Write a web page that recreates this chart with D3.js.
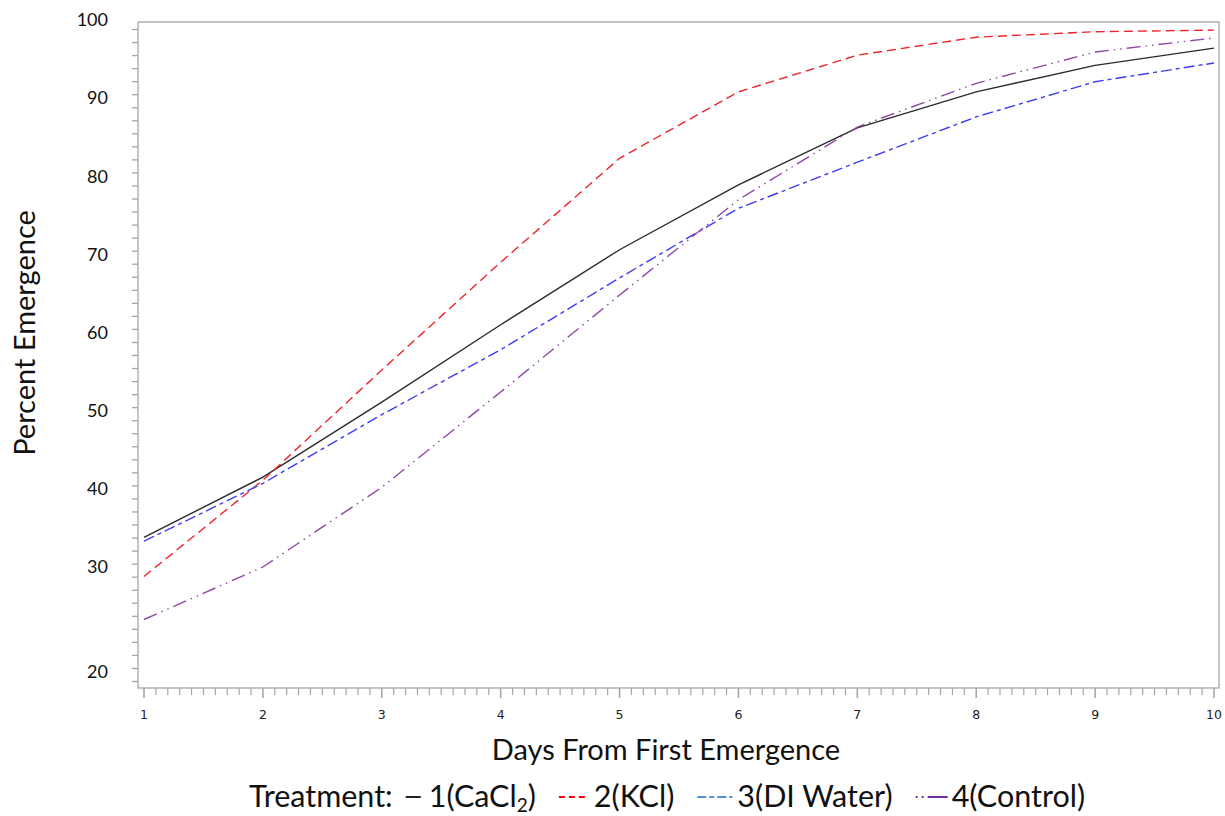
<!DOCTYPE html>
<html>
<head>
<meta charset="utf-8">
<script src="https://cdn.jsdelivr.net/npm/d3@7"></script>
<style>
	body { margin: 0; background: #fff; }
	svg { display: block; }
</style>
</head>
<body>
<div id="chart"></div>
<script>
// data
const days = [1, 2, 3, 4, 5, 6, 7, 8, 9, 10];
const cacl2 = [33.8, 41.5, 51.1, 61.0, 70.6, 78.9, 86.2, 90.8, 94.2, 96.4];
const kcl = [29.1, 41.1, 55.2, 69.0, 82.3, 90.8, 95.5, 97.8, 98.5, 98.7];
const diWater = [33.3, 40.7, 49.5, 57.8, 67.0, 75.9, 81.8, 87.6, 92.1, 94.5];
const control = [25.0, 30.0, 40.2, 52.4, 64.8, 77.0, 86.3, 91.9, 95.9, 97.7];
const yTickLabels = [20, 30, 40, 50, 60, 70, 80, 90, 100];
const xTickLabels = [1, 2, 3, 4, 5, 6, 7, 8, 9, 10];

const series = [
	{ name: '1(CaCl2)', values: cacl2, color: '#2b2b2b', dash: null, legendColor: '#222', legendDash: null },
	{ name: '2(KCl)', values: kcl, color: '#f0242c', dash: '9,5', legendColor: '#ff0000', legendDash: '6,4' },
	{ name: '3(DI Water)', values: diWater, color: '#3d3df2', dash: '11,4,4,4', legendColor: '#4f8ee0', legendDash: '9,3,5,3' },
	{ name: '4(Control)', values: control, color: '#9146a6', dash: '14,5,1.5,5,1.5,5', legendColor: '#7030a0', legendDash: '2,4,2,4,20' }
];

const W = 1225, H = 816;
const frame = { left: 138, top: 22, right: 1219, bottom: 688 };

const svg = d3.select('#chart').append('svg')
	.attr('width', W)
	.attr('height', H)
	.style('font-family', 'Lato, "Open Sans", sans-serif');

// x: day -> pixel
const xScale = d3.scaleLinear().domain([1, 10]).range([144, 1214]);
// y scale used for the printed labels and the curves
const yScale = d3.scaleLinear().domain([20, 30, 100]).range([672, 567, 20]);
// the tick marks sit on their own regular grid
const yTickScale = d3.scaleLinear().domain([0, 100]).range([681, 29]);

// frame
svg.append('rect')
	.attr('x', frame.left)
	.attr('y', frame.top)
	.attr('width', frame.right - frame.left)
	.attr('height', frame.bottom - frame.top)
	.attr('fill', 'none')
	.attr('stroke', '#a6a6a6')
	.attr('stroke-width', 1.3);

// y tick marks
const yAxis = d3.axisLeft(yTickScale)
	.tickValues(d3.range(0, 101, 2))
	.tickSize(6)
	.tickFormat('');
const gy = svg.append('g')
	.attr('transform', 'translate(' + frame.left + ',0)')
	.call(yAxis);
gy.select('.domain').remove();
gy.selectAll('line').attr('stroke', '#a6a6a6').attr('stroke-width', 1.3);

// y tick labels
svg.append('g').selectAll('text')
	.data(yTickLabels)
	.enter()
	.append('text')
	.attr('x', 108)
	.attr('y', (d) => yScale(d))
	.attr('dy', '0.35em')
	.attr('text-anchor', 'end')
	.style('font-size', '18px')
	.style('fill', '#111')
	.text((d) => d);

// x tick marks, minor every 0.1 day
const xMinor = d3.range(0, 91).map((i) => 1 + i / 10);
const gx = svg.append('g').attr('transform', 'translate(0,' + frame.bottom + ')');
gx.selectAll('line')
	.data(xMinor)
	.enter()
	.append('line')
	.attr('x1', (d) => xScale(d))
	.attr('x2', (d) => xScale(d))
	.attr('y1', 0)
	.attr('y2', (d, i) => (i % 10 == 0 ? 10 : 7))
	.attr('stroke', '#a6a6a6')
	.attr('stroke-width', (d, i) => (i % 10 == 0 ? 1.6 : 1.2));

svg.append('g').selectAll('text')
	.data(xTickLabels)
	.enter()
	.append('text')
	.attr('x', (d) => xScale(d))
	.attr('y', 719)
	.attr('text-anchor', 'middle')
	.style('font-family', '"DejaVu Sans", sans-serif')
	.style('font-size', '12.5px')
	.style('fill', '#222')
	.text((d) => d);

// curves
const line = d3.line()
	.x((d, i) => xScale(days[i]))
	.y((d) => yScale(d));

svg.append('g').selectAll('path')
	.data(series)
	.enter()
	.append('path')
	.attr('d', (d) => line(d.values))
	.attr('fill', 'none')
	.attr('stroke', (d) => d.color)
	.attr('stroke-width', 1.4)
	.attr('stroke-dasharray', (d) => d.dash);

// axis titles
svg.append('text')
	.attr('x', 666)
	.attr('y', 760)
	.attr('text-anchor', 'middle')
	.style('font-size', '29px')
	.style('fill', '#111')
	.text('Days From First Emergence');

svg.append('text')
	.attr('transform', 'translate(35,333) rotate(-90)')
	.attr('text-anchor', 'middle')
	.style('font-size', '29px')
	.style('fill', '#111')
	.text('Percent Emergence');

// legend
const legend = svg.append('g').attr('transform', 'translate(0,807)');
let lx = 249;
const lead = legend.append('text')
	.attr('x', lx)
	.style('font-size', '30.5px')
	.style('fill', '#111')
	.text('Treatment:');
lx += lead.node().getComputedTextLength() + 13;

const symbolWidths = [15, 29, 35, 32];
const symbolGaps = [8, 6, 5, 4];
series.forEach(function(s, i) {
	legend.append('line')
		.attr('x1', lx)
		.attr('x2', lx + symbolWidths[i])
		.attr('y1', -10)
		.attr('y2', -10)
		.attr('stroke', s.legendColor)
		.attr('stroke-width', 2)
		.attr('stroke-dasharray', s.legendDash);
	lx += symbolWidths[i] + symbolGaps[i];
	const t = legend.append('text')
		.attr('x', lx)
		.style('font-size', '30.5px')
		.style('fill', '#111');
	if (i == 0) {
		t.append('tspan').text('1(CaCl');
		t.append('tspan').attr('baseline-shift', '-5').style('font-size', '19px').text('2');
		t.append('tspan').text(')');
	} else {
		t.text(s.name);
	}
	lx += t.node().getComputedTextLength() + 23;
});
</script>
</body>
</html>
